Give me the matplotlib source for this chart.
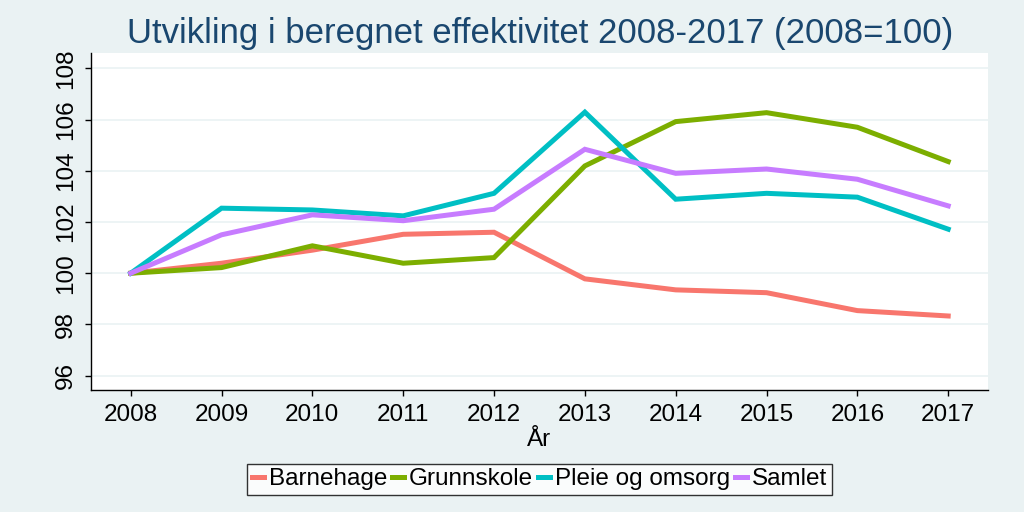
import numpy as np
import matplotlib
matplotlib.use("Agg")
import matplotlib.pyplot as plt

plt.rcParams['font.family'] = ['Liberation Sans', 'DejaVu Sans']

years = [2008, 2009, 2010, 2011, 2012, 2013, 2014, 2015, 2016, 2017]
barnehage = [100.0, 100.39, 100.9, 101.52, 101.6, 99.78, 99.35, 99.24, 98.54, 98.33]
grunnskole = [100.0, 100.22, 101.07, 100.39, 100.61, 104.19, 105.92, 106.27, 105.7, 104.36]
pleie = [100.0, 102.54, 102.47, 102.24, 103.12, 106.29, 102.89, 103.12, 102.97, 101.72]
samlet = [100.0, 101.5, 102.28, 102.05, 102.5, 104.84, 103.9, 104.07, 103.67, 102.63]

series_labels = ["Barnehage", "Grunnskole", "Pleie og omsorg", "Samlet"]
series_colors = ["#F8766D", "#7CAE00", "#00BFC4", "#C77CFF"]
yticks = [96, 98, 100, 102, 104, 106, 108]

bg = "#EAF2F3"
fig = plt.figure(figsize=(10.24, 5.12), dpi=100, facecolor=bg)
ax = fig.add_axes([0.0886, 0.2383, 0.8764, 0.6582])
ax.set_facecolor("white")

for vals, lab, col in zip([barnehage, grunnskole, pleie, samlet], series_labels, series_colors):
    ax.plot(years, vals, color=col, lw=3.6, label=lab, solid_joinstyle='miter')

ax.set_xlim(2007.56, 2017.44)
ax.set_ylim(95.44, 108.6)
ax.set_xticks(years)
ax.set_xticklabels([str(y) for y in years], fontsize=17.5)
ax.set_yticks(yticks)
ax.set_yticklabels([str(y) for y in yticks], fontsize=17.5, rotation=90, va='center')
ax.yaxis.grid(True, color="#EAF2F3", lw=1.2)
ax.set_axisbelow(True)
for s in ["top", "right"]:
    ax.spines[s].set_visible(False)
for s in ["left", "bottom"]:
    ax.spines[s].set_color("black")
    ax.spines[s].set_linewidth(1.0)
ax.tick_params(axis='both', direction='out', length=4, width=1, color="black")
ax.tick_params(axis='x', pad=6)
ax.tick_params(axis='y', pad=6)

ax.set_xlabel("År", fontsize=17.5, labelpad=2)
fig.text(0.527, 0.935, "Utvikling i beregnet effektivitet 2008-2017 (2008=100)",
         ha='center', va='center', fontsize=25, color="#1A476F")

leg = fig.legend(loc='center', bbox_to_anchor=(0.527, 0.0635), ncol=4, fontsize=17.5,
                 frameon=True, fancybox=False, edgecolor="black", handlelength=0.5,
                 handletextpad=0.2, columnspacing=0.2, borderpad=0.2)
leg.get_frame().set_linewidth(1.0)

fig.savefig("out.png", dpi=100, facecolor=bg)
